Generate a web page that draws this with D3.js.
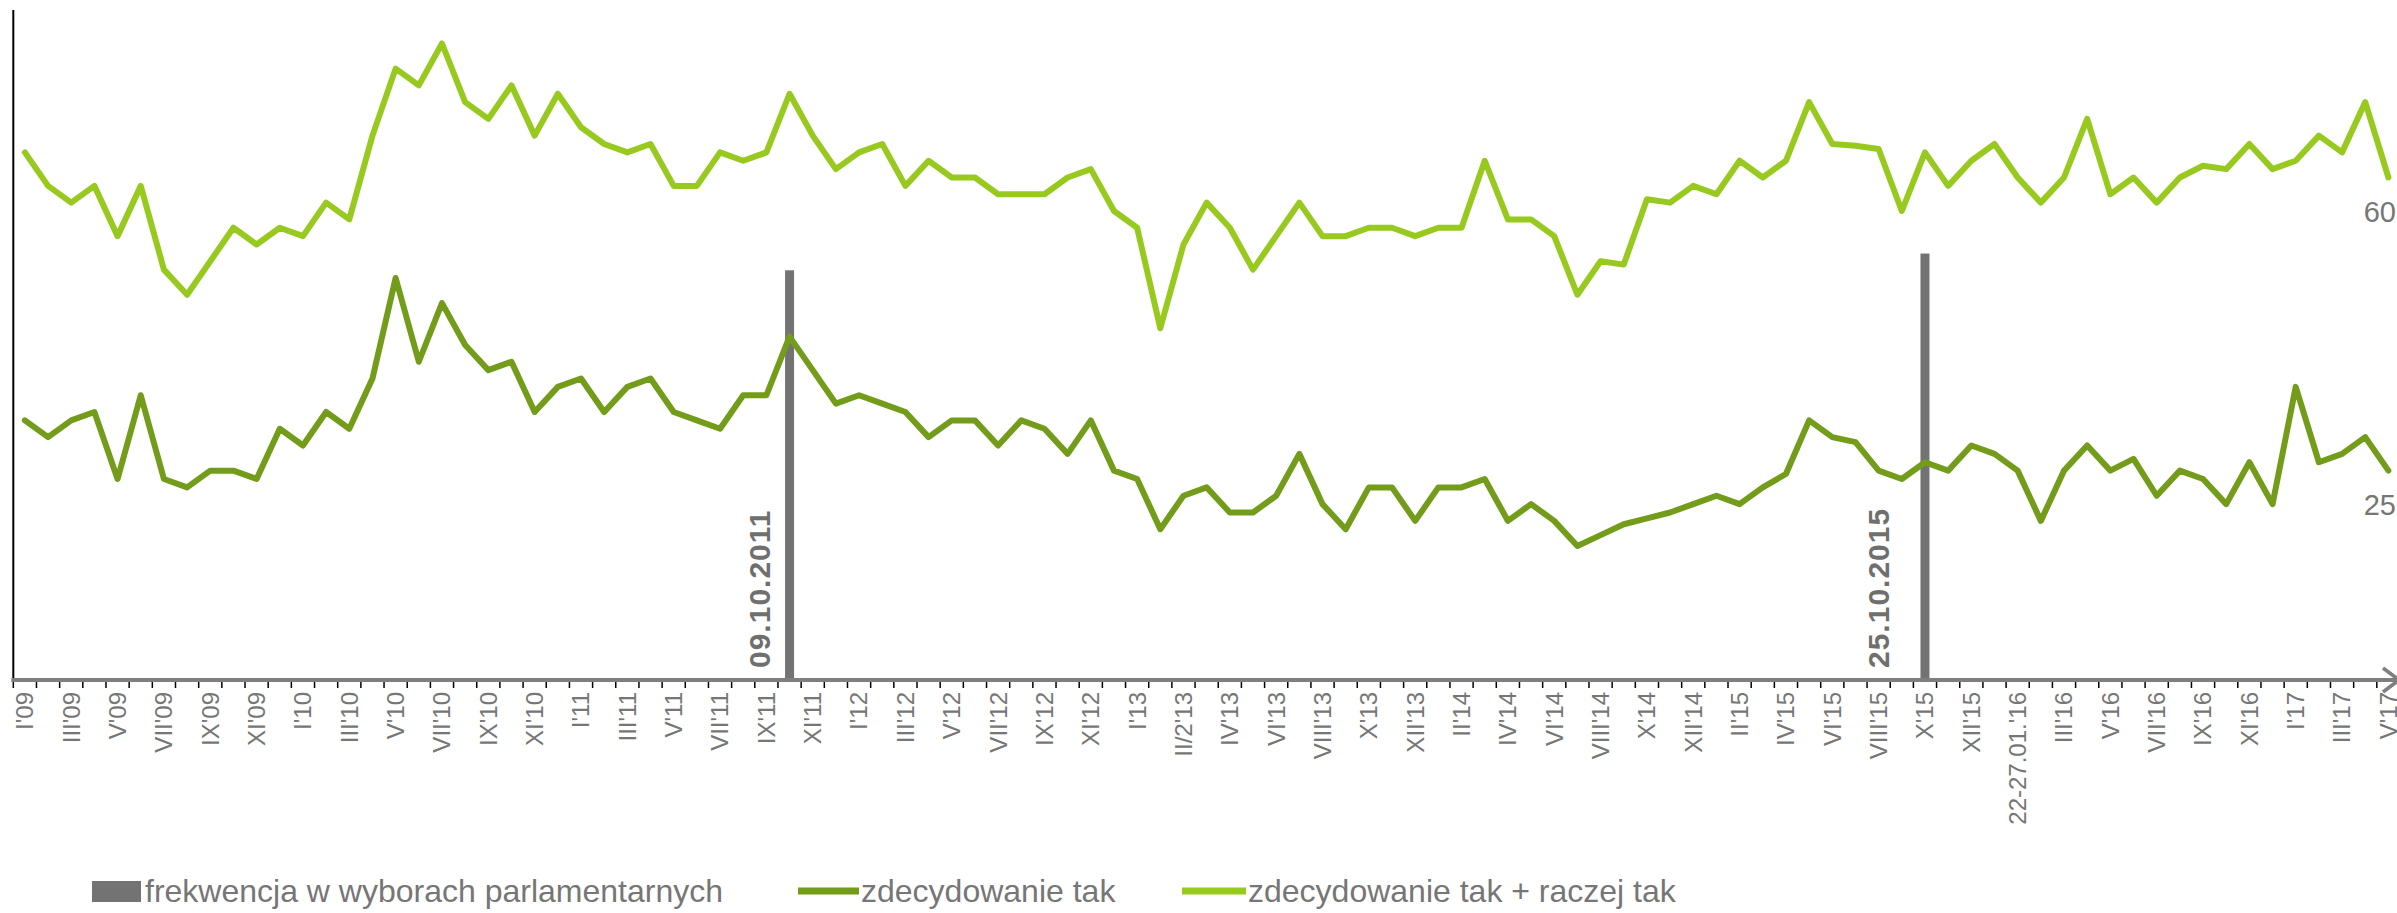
<!DOCTYPE html>
<html>
<head>
<meta charset="utf-8">
<script src="https://cdn.jsdelivr.net/npm/d3@7"></script>
<style>
  body { margin: 0; background: #fff; }
  svg { display: block; font-family: "Liberation Sans", Arial, sans-serif; }
</style>
</head>
<body>
<div id="chart"></div>
<script>
const categories = [
  "I'09","II'09","III'09","IV'09","V'09","VI'09","VII'09","VIII'09","IX'09","X'09","XI'09","XII'09",
  "I'10","II'10","III'10","IV'10","V'10","VI'10","VII'10","VIII'10","IX'10","X'10","XI'10","XII'10",
  "I'11","II'11","III'11","IV'11","V'11","VI'11","VII'11","VIII'11","IX'11","X'11","XI'11","XII'11",
  "I'12","II'12","III'12","IV'12","V'12","VI'12","VII'12","VIII'12","IX'12","X'12","XI'12","XII'12",
  "I'13","II/1'13","II/2'13","III'13","IV'13","V'13","VI'13","VII'13","VIII'13","IX'13","X'13","XI'13","XII'13",
  "I'14","II'14","III'14","IV'14","V'14","VI'14","VII'14","VIII'14","IX'14","X'14","XI'14","XII'14",
  "I'15","II'15","III'15","IV'15","V'15","VI'15","VII'15","VIII'15","IX'15","X'15","XI'15","XII'15",
  "I'16","22-27.01.'16","II'16","III'16","IV'16","V'16","VI'16","VII'16","VIII'16","IX'16","X'16","XI'16","XII'16",
  "I'17","II'17","III'17","IV'17","V'17"
];

// zdecydowanie tak + raczej tak
const seriesBoth = [
  63,59,57,59,53,59,49,46,50,54,52,54,53,57,55,65,73,71,76,69,67,71,65,70,66,
  64,63,64,59,59,63,62,63,70,65,61,63,64,59,62,60,60,58,58,58,60,61,56,54,42,52,
  57,54,49,53,57,53,53,54,54,53,54,54,62,55,55,53,46,50,49.6,57.4,57,59,58,62,60,62,
  69,64,63.8,63.4,56,63,59,62,64,60,57,60,67,58,60,57,60,61.4,61,64,61,62,65,63,69,60
];

// zdecydowanie tak
const seriesDefinitely = [
  31,29,31,32,24,34,24,23,25,25,24,30,28,32,30,36,48,38,45,40,37,38,32,35,36,
  32,35,36,32,31,30,34,34,41,37,33,34,33,32,29,31,31,28,31,30,27,31,25,24,18,22,
  23,20,20,22,27,21,18,23,23,19,23,23,24,19,21,19,16,17.3,18.6,19.3,20,21,22,21,23,24.6,
  31,29,28.4,25,24,26,25,28,27,25,19,25,28,25,26.4,22,25,24,21,26,21,35,26,27,29,25
];

// frekwencja w wyborach parlamentarnych
const electionMonths = ["X'11", "X'15"];
const turnout = [48.92, 50.92];
const electionLabels = ["09.10.2011", "25.10.2015"];

const legendLabels = [
  "frekwencja w wyborach parlamentarnych",
  "zdecydowanie tak",
  "zdecydowanie tak + raczej tak"
];

const width = 2397, height = 913;
const plot = { left: 13.3, right: 2400, top: 10, bottom: 680 };
const colors = { bar: "#737373", dark: "#739c1a", light: "#98c91f", text: "#767676" };

const svg = d3.select("#chart").append("svg")
  .attr("width", width)
  .attr("height", height);

const x = d3.scaleBand()
  .domain(categories)
  .range([plot.left, plot.right])
  .padding(0);

const y = d3.scaleLinear()
  .domain([0, 80])
  .range([plot.bottom, plot.top]);

const cx = (c) => x(c) + x.bandwidth() / 2;

// election turnout bars
svg.selectAll("rect.turnout")
  .data(electionMonths)
  .enter()
  .append("rect")
  .attr("class", "turnout")
  .attr("x", (d) => cx(d) - 4.5)
  .attr("width", 9)
  .attr("y", (d, i) => y(turnout[i]))
  .attr("height", (d, i) => plot.bottom - y(turnout[i]))
  .attr("fill", colors.bar);

const labelShift = [-20, -36];
svg.selectAll("text.election")
  .data(electionMonths)
  .enter()
  .append("text")
  .attr("class", "election")
  .attr("transform", (d, i) => `translate(${cx(d) + labelShift[i]},${plot.bottom - 12}) rotate(-90)`)
  .style("font-size", "30px")
  .style("font-weight", "bold")
  .style("letter-spacing", "1px")
  .style("fill", "#6f6f6f")
  .text((d, i) => electionLabels[i]);

// y axis line
svg.append("line")
  .attr("x1", plot.left).attr("x2", plot.left)
  .attr("y1", plot.top).attr("y2", plot.bottom)
  .attr("stroke", "#000")
  .attr("stroke-width", 2);

// x axis
const xAxis = d3.axisBottom(x)
  .tickValues(categories.filter((d, i) => i % 2 === 0))
  .tickSize(0);

const axisG = svg.append("g")
  .attr("transform", `translate(0,${plot.bottom})`)
  .call(xAxis);

axisG.select(".domain").remove();
axisG.selectAll("text")
  .attr("transform", "rotate(-90)")
  .attr("x", -12)
  .attr("y", 0)
  .attr("dy", "0.35em")
  .attr("text-anchor", "end")
  .style("font-size", "24px")
  .style("font-family", "'Liberation Sans', Arial, sans-serif")
  .style("fill", colors.text);

// tick marks between categories
const bounds = categories.map((c) => x(c)).concat([x.range()[1]]);
svg.append("g")
  .selectAll("line")
  .data(bounds)
  .enter()
  .append("line")
  .attr("x1", (d) => d).attr("x2", (d) => d)
  .attr("y1", plot.bottom + 2).attr("y2", plot.bottom + 8)
  .attr("stroke", "#000")
  .attr("stroke-width", 1.5);

svg.append("line")
  .attr("x1", plot.left - 2).attr("x2", width)
  .attr("y1", plot.bottom).attr("y2", plot.bottom)
  .attr("stroke", "#7f7f7f")
  .attr("stroke-width", 4);

svg.append("path")
  .attr("d", `M${width - 14},${plot.bottom - 12} L${width + 2},${plot.bottom} L${width - 14},${plot.bottom + 12}`)
  .attr("fill", "none")
  .attr("stroke", "#7f7f7f")
  .attr("stroke-width", 3.5);

// lines
const line = d3.line()
  .x((d, i) => cx(categories[i]))
  .y((d) => y(d));

[[seriesDefinitely, colors.dark], [seriesBoth, colors.light]].forEach(([values, color]) => {
  svg.append("path")
    .datum(values)
    .attr("d", line)
    .attr("fill", "none")
    .attr("stroke", color)
    .attr("stroke-width", 6)
    .attr("stroke-linejoin", "round")
    .attr("stroke-linecap", "round");

  const last = values[values.length - 1];
  svg.append("text")
    .attr("x", width - 1)
    .attr("y", y(last) + 44)
    .attr("text-anchor", "end")
    .style("font-size", "29px")
    .style("fill", colors.text)
    .text(Math.round(last));
});

// legend
const legend = svg.append("g");
legend.append("rect")
  .attr("x", 92).attr("y", 881)
  .attr("width", 49).attr("height", 21)
  .attr("fill", colors.bar);
legend.append("text")
  .attr("x", 145).attr("y", 902)
  .style("font-size", "32px").style("fill", colors.text)
  .text(legendLabels[0]);

legend.append("line")
  .attr("x1", 798).attr("x2", 859)
  .attr("y1", 891).attr("y2", 891)
  .attr("stroke", colors.dark).attr("stroke-width", 7);
legend.append("text")
  .attr("x", 861).attr("y", 902)
  .style("font-size", "32px").style("fill", colors.text)
  .text(legendLabels[1]);

legend.append("line")
  .attr("x1", 1182).attr("x2", 1246)
  .attr("y1", 891).attr("y2", 891)
  .attr("stroke", colors.light).attr("stroke-width", 7);
legend.append("text")
  .attr("x", 1248).attr("y", 902)
  .style("font-size", "32px").style("fill", colors.text)
  .text(legendLabels[2]);
</script>
</body>
</html>
